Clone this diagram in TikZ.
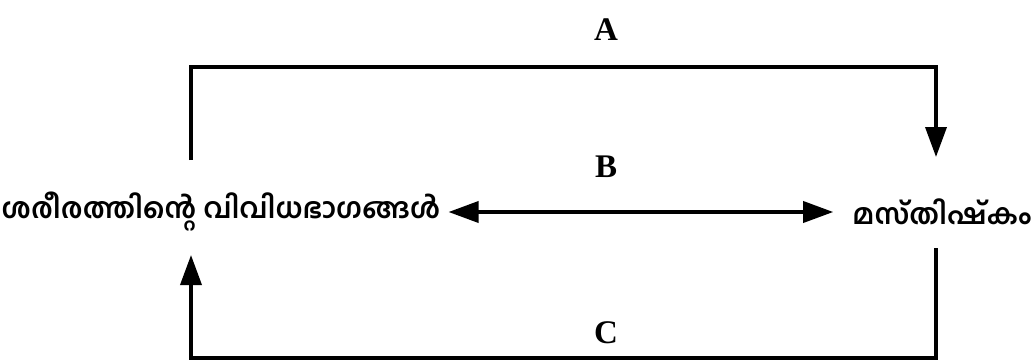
\documentclass[tikz,border=0pt]{standalone}
\usepackage{fontspec}
\setmainfont{Liberation Serif}
\newfontfamily\mlfont[Script=Malayalam]{Hind Kochi}
\usetikzlibrary{arrows.meta}

\tikzset{
  flow/.style={line width=3.6pt, -{Triangle[length=30pt,width=21pt]}},
  part/.style={font=\mlfont\bfseries\fontsize{28.3}{34}\selectfont, inner sep=0pt},
  tag/.style={font=\bfseries\fontsize{33}{38}\selectfont}
}

\begin{document}
\begin{tikzpicture}[x=1pt, y=1pt]
    \useasboundingbox (0,0) rectangle (1035,360);

    % 1. Hai khối chữ
    \node[part] (body) at (221,148) {ശരീരത്തിന്റെ വിവിധഭാഗങ്ങൾ};
    \node[part] (brain) at (942,148) {മസ്തിഷ്കം};

    % 2. Các điểm đầu mút
    \coordinate (a1) at (191,200);
    \coordinate (a2) at (936,203);
    \coordinate (c1) at (936,112);
    \coordinate (c2) at (191,105);

    % 3. Mũi tên A (trên)
    \draw[flow] (a1) -- ++(0,93) -| (a2);

    % 4. Mũi tên B (hai chiều)
    \draw[flow, {Triangle[length=30pt,width=21pt]}-{Triangle[length=30pt,width=21pt]}, shorten <=8pt, shorten >=19pt] (body.east) -- (brain.west);

    % 5. Mũi tên C (dưới)
    \draw[flow] (c1) -- ++(0,-110) -| (c2);

    % 6. Nhãn
    \node[tag] (A) at (606,330) {A};
    \node[tag] (B) at (606,193) {B};
    \node[tag] (C) at (606,27) {C};

\end{tikzpicture}
\end{document}
